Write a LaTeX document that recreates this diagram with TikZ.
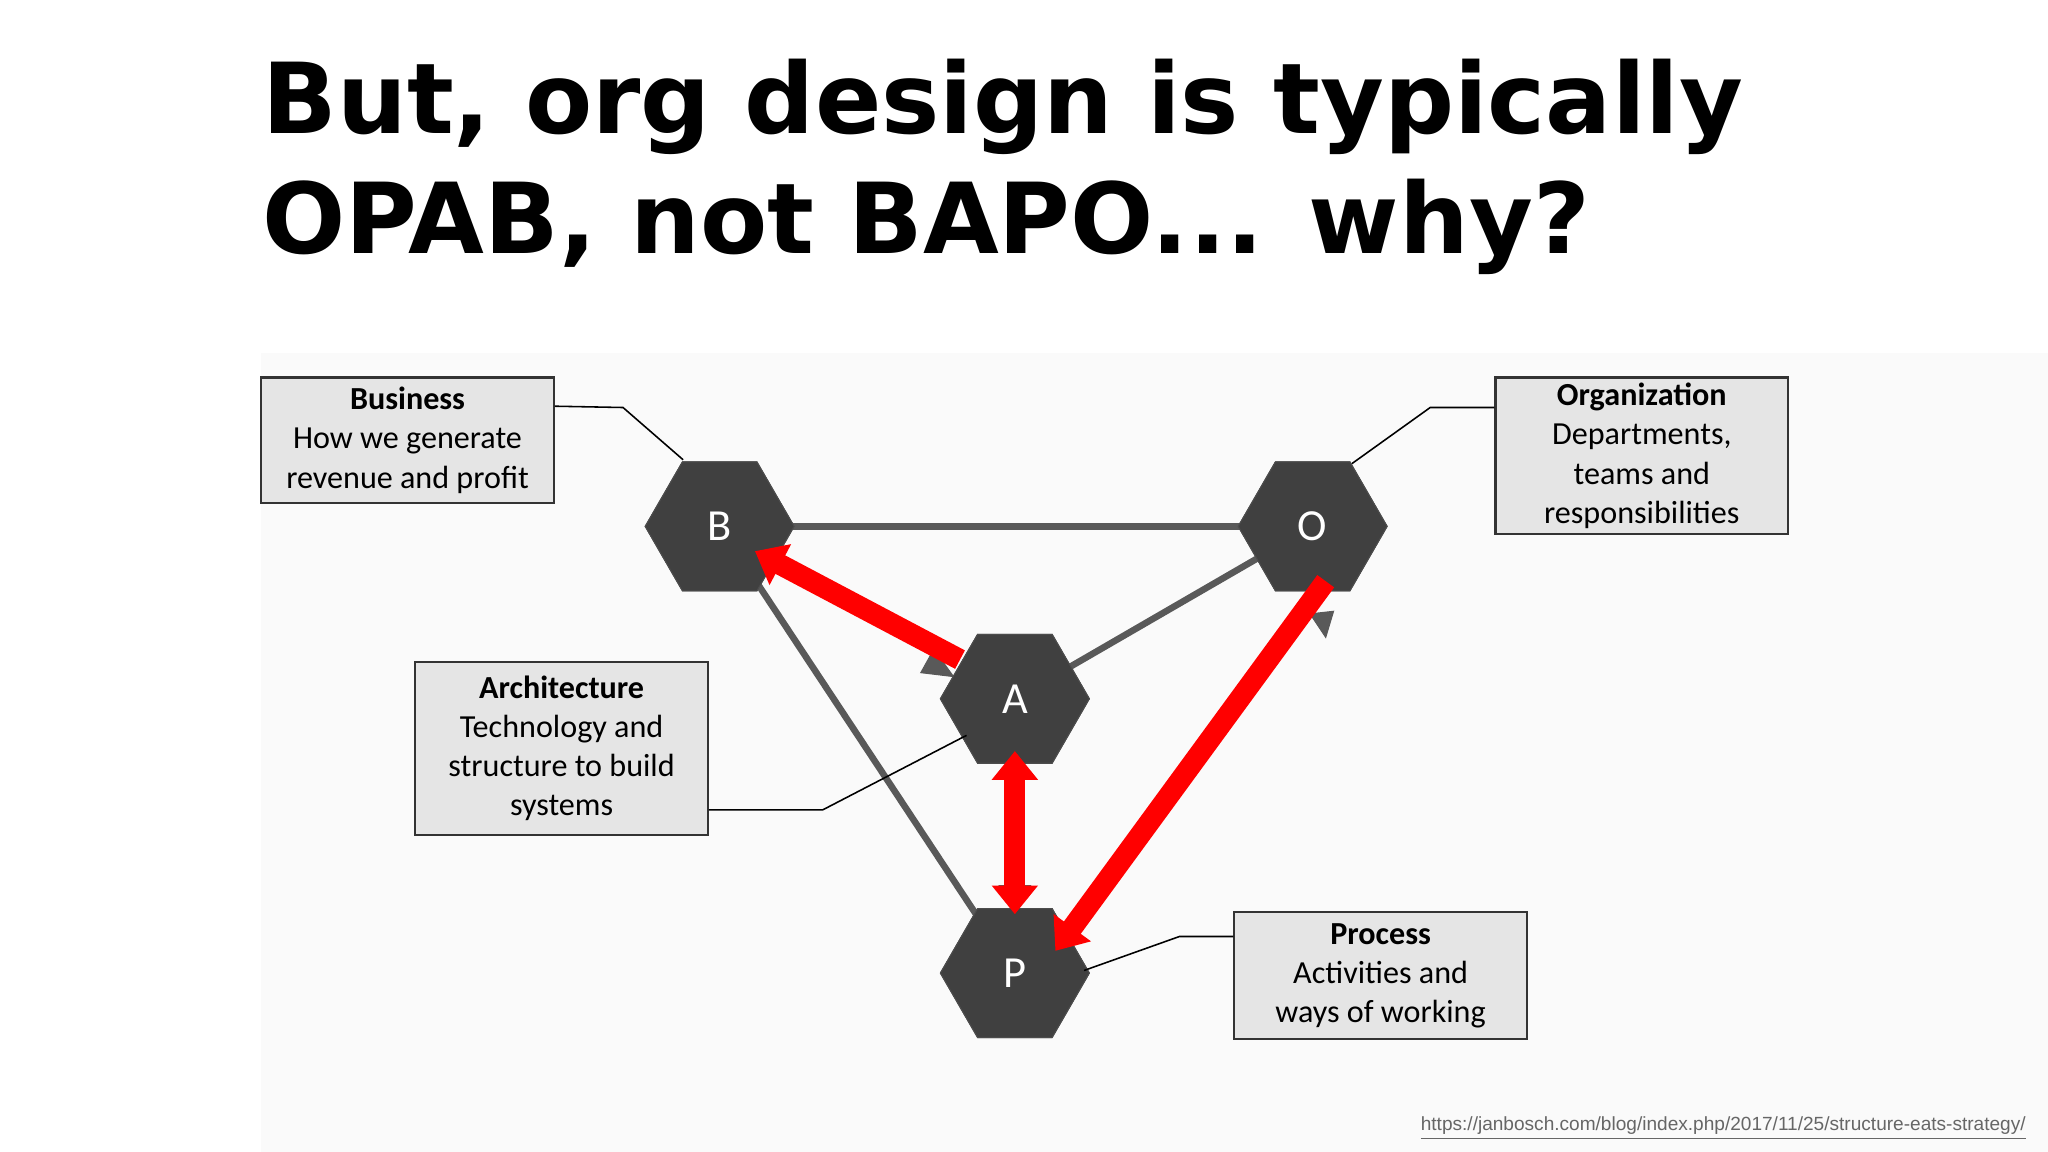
\documentclass[tikz,border=0pt]{standalone}
\usepackage{fontspec}
\setmainfont{Carlito}
\newfontfamily\titlefont{DejaVu Sans}
\newfontfamily\urlfont{Liberation Sans}
\usetikzlibrary{shapes.geometric,arrows.meta}
\definecolor{hexc}{HTML}{404040}
\definecolor{linec}{HTML}{595959}
\definecolor{boxc}{HTML}{E5E5E5}
\tikzset{
 hex/.style={regular polygon,regular polygon sides=6,shape border rotate=0,minimum size=114*0.5pt,inner sep=0pt,fill=hexc,draw=black!70,text=white,font=\fontsize{17}{17}\selectfont},
 infobox/.style={draw=black!80,line width=0.8pt,fill=boxc,align=center,font=\fontsize{12.3}{15}\selectfont,inner sep=0pt},
 grey/.style={linec,line width=2.5pt},
 leader/.style={black,line width=0.6pt},
 redarrow/.style={red,line width=8pt,-{Triangle[length=11pt,width=17pt]}},
 redboth/.style={red,line width=8pt,{Triangle[length=11pt,width=17pt]}-{Triangle[length=11pt,width=17pt]}}
}
\begin{document}
\begin{tikzpicture}[x=0.5pt,y=-0.5pt]
\useasboundingbox[fill=white] (0,0) rectangle (1568,882);
\fill[black!2] (200,270) rectangle (1568,882);
\node[anchor=west,align=left,font=\titlefont\bfseries\fontsize{37.5}{46}\selectfont] (title) at (194,128) {But, org design is typically\\OPAB, not BAPO... why?};
% hexagons
\node[hex] (B) at (551,403) {B};
\node[hex] (O) at (1005,403) {O};
\node[hex] (A) at (777,535) {A};
\node[hex] (P) at (777,745) {P};
% grey links
\draw[grey] (B.center) -- (O.center);
\draw[grey] (B.center) -- (P.center);
\draw[grey] (A.center) -- (O.center);
\coordinate (ghB) at (730,518);
\draw[linec,fill=linec] (ghB) -- ++(-25,-3) -- ++(10,-18) -- cycle;
\coordinate (ghO) at (1015,488);
\draw[linec,fill=linec] (ghO) -- ++(-12,-18) -- ++(18,-2) -- cycle;
\coordinate (ghP) at (777,698);
\draw[linec,fill=linec] (ghP) -- ++(-12,-20) -- ++(24,0) -- cycle;
% redraw hexagons on top
\node[hex] at (551,403) {B};
\node[hex] at (1005,403) {O};
\node[hex] at (777,535) {A};
\node[hex] at (777,745) {P};
% red arrows
\coordinate (rA1) at (735,505);
\coordinate (rB) at (578,422);
\draw[redarrow] (rA1) -- (rB);
\coordinate (rA2) at (777,575);
\coordinate (rP2) at (777,700);
\draw[redboth] (rP2) -- (rA2);
\coordinate (rO) at (1015,445);
\coordinate (rP) at (808,728);
\draw[redarrow] (rO) -- (rP);
% boxes
\node[infobox,minimum width=224*0.5pt,minimum height=96*0.5pt] (bus) at (312,337) {\textbf{Business}\\How we generate\\revenue and profit};
\node[infobox,minimum width=224*0.5pt,minimum height=120*0.5pt] (org) at (1257,349) {\textbf{Organization}\\Departments,\\teams and\\responsibilities};
\node[infobox,minimum width=224*0.5pt,minimum height=132*0.5pt] (arc) at (430,573) {\textbf{Architecture}\\Technology and\\structure to build\\systems};
\node[infobox,minimum width=224*0.5pt,minimum height=97*0.5pt] (pro) at (1057,747) {\textbf{Process}\\Activities and\\ways of working};
% leaders
\draw[leader] (bus.east |- 0,311) -- (477,312) -- (523,352);
\draw[leader] (org.west |- 0,312) -- (1095,312) -- (1035,355);
\draw[leader] (arc.east |- 0,620) -- (630,620) -- (740,563);
\draw[leader] (830,743) -- (903,717) -- (pro.west |- 0,717);
\node[anchor=east,font=\urlfont\fontsize{7.3}{8}\selectfont,text=black!60] (url) at (1558,864) {\underline{https://janbosch.com/blog/index.php/2017/11/25/structure-eats-strategy/}};
\end{tikzpicture}
\end{document}
